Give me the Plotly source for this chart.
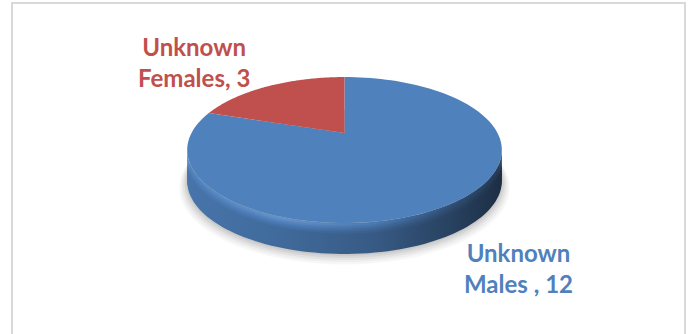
import numpy as np
import plotly.graph_objects as go

# Data
categories = ["Unknown Males", "Unknown Females"]
counts = [12, 3]
label_names = ["Unknown<br>Males ", "Unknown<br>Females"]
slice_colors = ["#4f81bd", "#c0504d"]

# Canvas / pie geometry (pixel units on hidden axes)
W, H = 688, 334
CX, CY = 344.5, 133.0
RX, RY = 153.0, 69.0
PERSP = 0.233
DEPTH = 31.0


def project(theta_deg, drop=0.0, grow=1.0):
    t = np.radians(theta_deg)
    s = 1.0 / (1.0 + PERSP * np.sin(t))
    x = CX + RX * grow * np.cos(t) * s
    y = CY - RY * grow * np.sin(t) * s + drop
    return x, y


def shade(hex_color, f):
    h = hex_color.lstrip("#")
    r, g, b = (int(h[i:i + 2], 16) for i in (0, 2, 4))
    if f >= 1:
        r, g, b = (int(c + (255 - c) * (f - 1)) for c in (r, g, b))
    else:
        r, g, b = (int(c * f) for c in (r, g, b))
    return f"rgb({r},{g},{b})"


fig = go.Figure()

# soft shadow halo under the pie
full = np.linspace(0, 360, 181)
for i, a in enumerate([0.03, 0.035, 0.045, 0.055, 0.06]):
    g = 1.05 - i * 0.011
    sx, sy = project(full, DEPTH + 6 - 1.2 * i, g)
    fig.add_trace(go.Scatter(x=sx, y=sy, fill="toself", mode="none",
                             fillcolor=f"rgba(0,0,0,{a})", hoverinfo="skip",
                             showlegend=False))

# slice angles: clockwise from 12 o'clock
total = float(sum(counts))
starts, ends = [], []
ang = 90.0
for c in counts:
    sweep = 360.0 * c / total
    starts.append(ang)
    ends.append(ang - sweep)
    ang -= sweep

# visible side lies between the silhouette angles of the front half
left_sil = 180.0 + np.degrees(np.arcsin(PERSP))
right_sil = 360.0 - np.degrees(np.arcsin(PERSP))

# rounded wall: shade profiles at the rim (bright) and lower wall (plain),
# blended over stacked bands; each band runs down to the wall's bottom so
# the upper band simply paints over the one below it
pos = [0.0, 0.3, 0.6, 0.85, 1.0]
rim = [1.04, 1.16, 0.97, 0.62, 0.46]
wall = [0.90, 0.82, 0.70, 0.50, 0.36]
band_tops = [12.0, 9.5, 7.5, 6.0, 4.5, 3.0, 1.5, 0.0]


def blend(depth_px):
    w = np.clip(1.0 - depth_px / 11.0, 0.0, 1.0) ** 1.3
    return [r * w + l * (1 - w) for r, l in zip(rim, wall)]


for name, s0, s1, col in zip(categories, starts, ends, slice_colors):
    lo, hi = s1, s0
    for shift in (-720, -360, 0, 360):
        a0 = max(lo + shift, left_sil)
        a1 = min(hi + shift, right_sil)
        if a1 - a0 <= 0.01:
            continue
        th = np.linspace(a0, a1, 80)
        for k, top in enumerate(band_tops):
            if k == 0:
                bot, fs = DEPTH, wall
            else:
                bot = DEPTH - 2.0 if k == 1 else band_tops[k - 1] + 1.0
                fs = blend(0.5 * (top + band_tops[k - 1]))
            tx, ty = project(th, top)
            bx, by = project(th[::-1], bot)
            fig.add_trace(go.Scatter(
                x=np.concatenate([tx, bx]), y=np.concatenate([ty, by]),
                fill="toself", mode="none", hoverinfo="skip", showlegend=False,
                fillgradient=dict(type="horizontal", colorscale=[
                    [p, shade(col, f)] for p, f in zip(pos, fs)])))

# top face slices
for name, s0, s1, col in zip(categories, starts, ends, slice_colors):
    th = np.linspace(s0, s1, 120)
    ax, ay = project(th, 0)
    fig.add_trace(go.Scatter(
        x=np.concatenate([[CX], ax, [CX]]), y=np.concatenate([[CY], ay, [CY]]),
        fill="toself", mode="none", fillcolor=col, name=name,
        hoverinfo="name", showlegend=False))

# data labels
label_pos = [(518, 268), (194, 62)]
for nm, c, col, (lx, ly) in zip(label_names, counts, slice_colors, label_pos):
    fig.add_annotation(x=lx, y=ly, xref="x", yref="y", showarrow=False,
                       text=f"<b>{nm}, {c}</b>", align="center",
                       font=dict(family="Lato", size=24, color=col))

# chart area border
fig.add_shape(type="rect", x0=12, x1=685, y0=3, y1=345, xref="x", yref="y",
              line=dict(color="#d9d9d9", width=2), fillcolor="rgba(0,0,0,0)")

fig.update_layout(
    width=W, height=H, autosize=False,
    margin=dict(l=0, r=0, t=0, b=0),
    paper_bgcolor="white", plot_bgcolor="white",
    xaxis=dict(range=[0, W], visible=False, fixedrange=True),
    yaxis=dict(range=[H, 0], visible=False, fixedrange=True),
    showlegend=False,
)

fig.write_html("out.html")
